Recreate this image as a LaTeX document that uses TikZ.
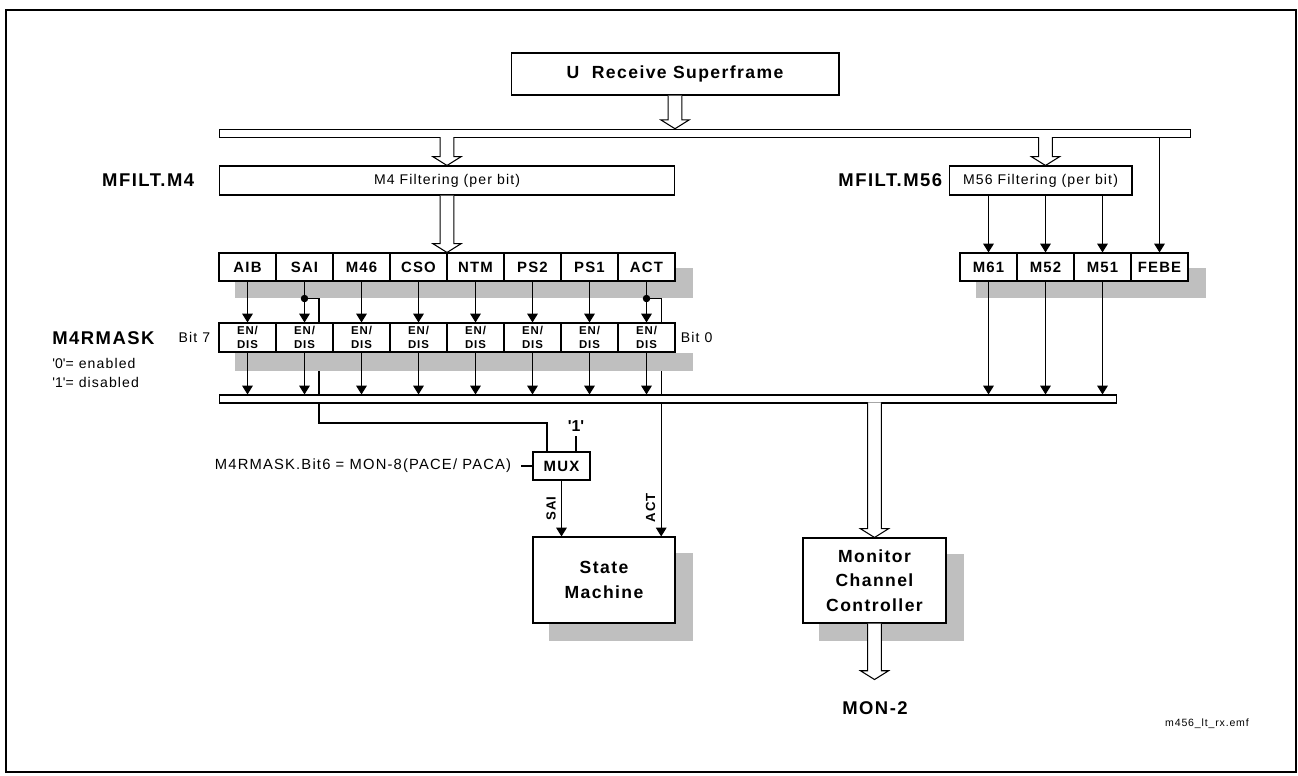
\documentclass[tikz,border=0pt]{standalone}
\usepackage{fontspec}
\setmainfont{Liberation Sans}[LetterSpace=8]
\usetikzlibrary{arrows.meta,calc,positioning,backgrounds}

\newcommand{\fs}[2]{\fontsize{#1}{#2}\selectfont}
\newcommand{\tq}{\textquotesingle}

% hollow bus arrow: start point, tip point, overlap into the source edge
\newcommand{\fatarrow}[3]{%
  \filldraw[fill=white,line width=0.6pt] let \p1=#1, \p2=#2 in
    (\x1-3.9pt,\y1+#3) -- (\x1-3.9pt,\y2+5pt) -- (\x1-8pt,\y2+5pt) -- (\x1,\y2)
    -- (\x1+8pt,\y2+5pt) -- (\x1+3.9pt,\y2+5pt) -- (\x1+3.9pt,\y1+#3);}

\tikzset{
  box/.style={draw,fill=white,line width=0.6pt,inner sep=0pt,align=center},
  bus/.style={box,minimum height=0.17cm},
  bitbox/.style={box,minimum width=1.14cm,minimum height=0.56cm,font=\fs{8.5}{10}\bfseries},
  maskbox/.style={box,minimum width=1.14cm,minimum height=0.58cm,font=\fs{6.5}{8.3}\bfseries},
  filterbox/.style={box,minimum height=0.58cm,font=\fs{8}{10}},
  unitbox/.style={box,font=\fs{10}{14}\bfseries},
  shadow/.style={fill=black!25},
  wire/.style={line width=0.65pt},
  sig/.style={wire,-{Triangle[width=6pt,length=5pt]}},
  biglbl/.style={inner sep=0pt,font=\fs{10.5}{12}\bfseries},
  lbl/.style={inner sep=0pt,font=\fs{8}{9.5}},
  sidelbl/.style={inner sep=3pt,rotate=90,anchor=south,font=\fs{7.5}{9}\bfseries},
}

\begin{document}
\begin{tikzpicture}[x=0.02cm,y=-0.02cm]
  \path[use as bounding box] (0,0) rectangle (1298,775);
  \draw[line width=1.2pt] (6,10) rectangle (1296,772);

  % source and upper bus
  \node[unitbox,minimum width=6.56cm,minimum height=0.84cm] (usf) at (675,74) {U~~Receive Superframe};
  \node[bus,minimum width=19.44cm] (tbus) at (705,133.5) {};
  \fatarrow{(usf.south)}{(usf.south |- tbus.north)}{0pt}

  % filters
  \node[filterbox,minimum width=9.12cm] (m4f) at (447,180.5) {M4 Filtering (per bit)};
  \node[filterbox,minimum width=3.66cm] (m56f) at (1040.5,180.5) {M56 Filtering (per bit)};
  \node[biglbl,left=0.48cm of m4f] (lm4) {MFILT.M4};
  \node[biglbl,left=0.12cm of m56f] (lm56) {MFILT.M56};

  % M4 bits and their mask
  \foreach \t [count=\i] in {AIB,SAI,M46,CSO,NTM,PS2,PS1,ACT} {
    \node[bitbox] (b\i) at ({190.5+57*\i},267) {\t};
    \node[maskbox] (m\i) at ({190.5+57*\i},337.5) {EN/\\DIS};
  }
  \node[lbl,left=0.16cm of m1] (bit7) {Bit 7};
  \node[lbl,right=0.1cm of m8] (bit0) {Bit 0};
  \node[biglbl,anchor=west] (lmask) at (52,338) {M4RMASK};
  \node[lbl,anchor=west] (len) at (52,363) {\tq0\tq= enabled};
  \node[lbl,anchor=west] (ldis) at (52,382) {\tq1\tq= disabled};

  % M56 bits
  \foreach \t [count=\i] in {M61,M52,M51,FEBE} {
    \node[bitbox] (r\i) at ({931.5+57*\i},267) {\t};
  }

  \fatarrow{(m4f.north |- tbus.south)}{(m4f.north)}{0.6pt}
  \fatarrow{(r2.north |- tbus.south)}{(r2.north |- m56f.north)}{0.6pt}
  \fatarrow{(m4f.south)}{(m4f.south |- b4.north)}{0pt}

  % lower bus
  \node[bus,minimum width=17.96cm,minimum height=0.16cm] (bbus) at (668,399) {};

  \foreach \i in {1,...,8} {
    \draw[sig] (b\i) -- (m\i);
    \draw[sig] (m\i) -- (m\i.south |- bbus.north);
  }
  \foreach \i in {1,2,3} {
    \draw[sig] (r\i.north |- m56f.south) -- (r\i);
    \draw[sig] (r\i) -- (r\i.south |- bbus.north);
  }
  \draw[sig] (r4.north |- tbus.south) -- (r4);

  % taps before the mask
  \coordinate (saidot) at ($(b2.south)+(0,17)$);
  \coordinate (actdot) at ($(b8.south)+(0,17)$);
  \coordinate (saijog) at (319,423);
  \fill (saidot) circle[radius=0.075cm];
  \fill (actdot) circle[radius=0.075cm];

  % mux and state machine
  \node[bitbox] (mux) at (561.5,466) {MUX};
  \coordinate (mxin) at ($(mux.north west)!0.25!(mux.north east)$);
  \coordinate (mxone) at ($(mux.north west)!0.75!(mux.north east)$);
  \coordinate (mxonetop) at ($(mxone)+(0,-15)$);
  \draw[wire] (mxone) -- (mxonetop);
  \node[biglbl,font=\fs{9}{11}\bfseries,above=0.1cm of mxonetop] (one) {\tq1\tq};
  \coordinate (mxsel) at ($(mux.west)+(-11,0)$);
  \draw[wire] (mux.west) -- (mxsel);
  \node[lbl,font=\fs{8.4}{10},left=0.2cm of mxsel] (bit6) {M4RMASK.Bit6 = MON-8(PACE/ PACA)};

  \node[unitbox,minimum width=2.84cm,minimum height=1.72cm] (sm) at (604,580) {State\\Machine};
  \coordinate (smact) at ($(sm.north west)!0.9!(sm.north east)$);
  \draw[sig] (mux) -- (mux.south |- sm.north) node[sidelbl,pos=0.5] {SAI};

  % monitor channel controller
  \node[unitbox,minimum width=2.86cm,minimum height=1.70cm] (mcc) at (874.5,580.5) {Monitor\\Channel\\Controller};
  \fatarrow{(mcc.north |- bbus.south)}{(mcc.north)}{0.6pt}
  \coordinate (montip) at ($(mcc.south)+(0,56)$);
  \fatarrow{(mcc.south)}{(montip)}{0pt}
  \node[biglbl] (mon2) at (875,708) {MON-2};

  \node[inner sep=0pt,font=\fs{6}{7}] (fname) at (1207,724) {m456\_lt\_rx.emf};

  \begin{scope}[on background layer]
    \draw[wire] (saidot) -| (saijog) -| (mxin);
    \draw[sig] (actdot) -| (smact) node[sidelbl,pos=0.94] {ACT};
    \fill[shadow] ($(b1.north west)+(17,16)$) rectangle ($(b8.south east)+(17,16)$);
    \fill[shadow] ($(m1.south west)+(17,0)$) rectangle ($(m8.south east)+(17,18)$);
    \fill[shadow] ($(r1.north west)+(17,16)$) rectangle ($(r4.south east)+(17,16)$);
    \fill[shadow] ($(sm.north west)+(17,17)$) rectangle ($(sm.south east)+(17,17)$);
    \fill[shadow] ($(mcc.north west)+(17,17)$) rectangle ($(mcc.south east)+(17,17)$);
  \end{scope}
\end{tikzpicture}
\end{document}
